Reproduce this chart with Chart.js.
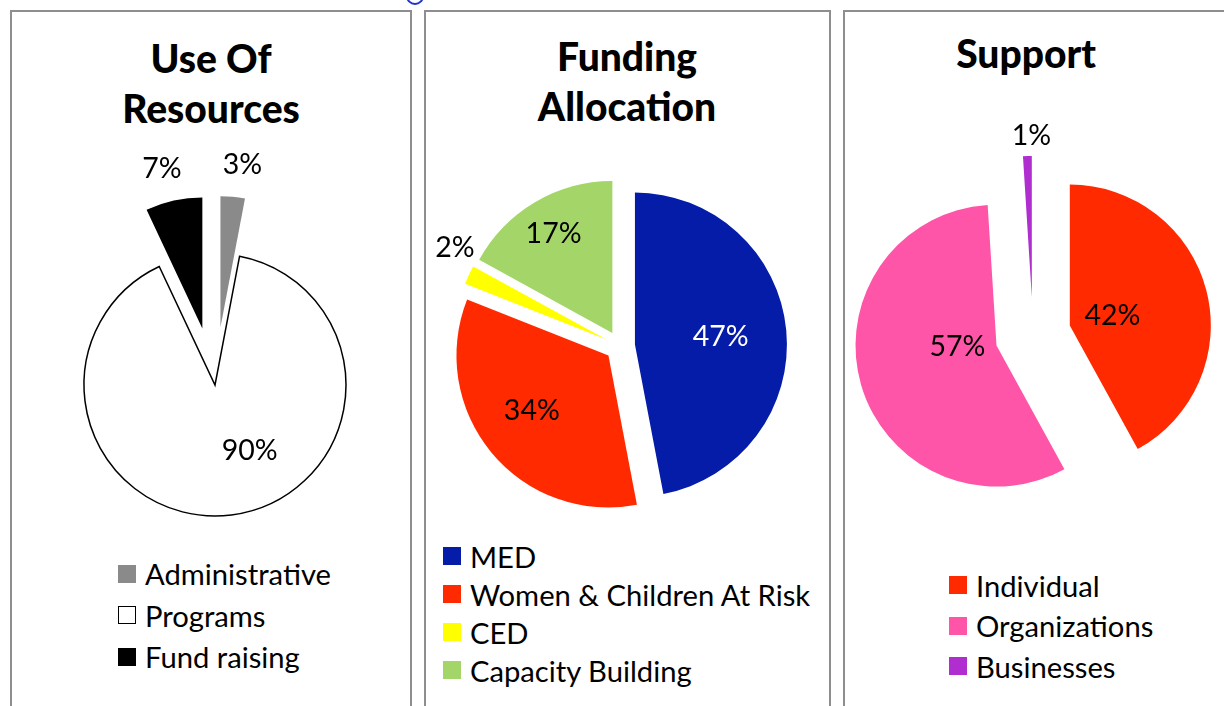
<!DOCTYPE html>
<html>
<head>
<meta charset="utf-8">
<script src="https://cdn.jsdelivr.net/npm/chart.js@4.4.1/dist/chart.umd.min.js"></script>
<style>
html,body{margin:0;padding:0;background:#fff;width:1224px;height:706px;overflow:hidden;font-family:Lato,"Open Sans",sans-serif;}
.panel{position:absolute;top:10px;height:720px;border:2px solid #8e8e8e;box-sizing:border-box;background:#fff;}
.title{position:absolute;font-weight:900;font-size:39px;line-height:50px;text-align:center;color:#000;white-space:nowrap;transform:translateX(-50%);}
canvas{position:absolute;left:0;top:0;}
.legend{position:absolute;font-size:29.2px;color:#000;}
.legend .row{display:flex;align-items:center;white-space:nowrap;}
.legend .box{width:18px;height:18px;box-sizing:border-box;margin-right:9px;flex:none;}
.ring{position:absolute;left:406px;top:-13px;width:18px;height:18px;border:2px solid #2036c8;border-radius:50%;box-sizing:border-box;}
</style>
</head>
<body>
<div class="panel" style="left:10px;width:402px;"></div>
<div class="panel" style="left:424px;width:407px;"></div>
<div class="panel" style="left:843px;width:420px;"></div>
<div class="ring"></div>

<div class="title" style="left:211px;top:33px;">Use Of<br>Resources</div>
<div class="title" style="left:627px;top:31px;">Funding<br>Allocation</div>
<div class="title" style="left:1026px;top:28px;">Support</div>

<div id="leg1" class="legend" style="left:118px;top:553px;"></div>
<div id="leg2" class="legend" style="left:443px;top:537px;"></div>
<div id="leg3" class="legend" style="left:949px;top:565px;"></div>

<canvas id="c1" width="1224" height="706"></canvas>
<canvas id="c2" width="1224" height="706"></canvas>
<canvas id="c3" width="1224" height="706"></canvas>

<script>
// ---- Data ----
const useLabels = ['Administrative', 'Programs', 'Fund raising'];
const useValues = [3, 90, 7];
const useColors = ['#8a8a8a', '#ffffff', '#000000'];

const fundLabels = ['MED', 'Women & Children At Risk', 'CED', 'Capacity Building'];
const fundValues = [47, 34, 2, 17];
const fundColors = ['#041ca8', '#ff2a00', '#ffff00', '#a3d568'];

const supportLabels = ['Individual', 'Organizations', 'Businesses'];
const supportValues = [42, 57, 1];
const supportColors = ['#ff2a00', '#ff55a8', '#b02ecf'];

// ---- Plugin: exploded slices + percentage labels ----
const explodePlugin = {
  id: 'explode',
  beforeDatasetsDraw(chart, args, opts) {
    const meta = chart.getDatasetMeta(0);
    meta.data.forEach((arc, i) => {
      if (arc._exploded) return;
      const orig = arc.draw;
      arc.draw = function (ctx, area) {
        const d = (opts.amount || [])[i] || 0;
        const mid = (this.startAngle + this.endAngle) / 2;
        ctx.save();
        ctx.translate(Math.cos(mid) * d, Math.sin(mid) * d);
        orig.call(this, ctx, area);
        ctx.restore();
      };
      arc._exploded = true;
    });
  },
  afterDatasetsDraw(chart, args, opts) {
    const meta = chart.getDatasetMeta(0);
    const values = chart.data.datasets[0].data;
    const ctx = chart.ctx;
    ctx.save();
    ctx.font = opts.font;
    ctx.textAlign = 'center';
    ctx.textBaseline = 'middle';
    meta.data.forEach((arc, i) => {
      const p = arc.getProps(['x', 'y', 'startAngle', 'endAngle', 'outerRadius'], true);
      const d = (opts.amount || [])[i] || 0;
      const mid = (p.startAngle + p.endAngle) / 2;
      const a = mid + ((opts.labelAngle || [])[i] || 0) * Math.PI / 180;
      const rr = p.outerRadius * opts.labelRadius[i];
      const x = p.x + Math.cos(mid) * d + Math.cos(a) * rr;
      const y = p.y + Math.sin(mid) * d + Math.sin(a) * rr;
      ctx.fillStyle = (opts.labelColor || [])[i] || '#000';
      ctx.fillText(values[i] + '%', x, y);
    });
    ctx.restore();
  }
};

function makePie(canvasId, labels, values, colors, cfg) {
  const canvas = document.getElementById(canvasId);
  const W = canvas.width, H = canvas.height;
  const bwMax = Math.max(...cfg.borderWidth);
  const side = 2 * cfg.radius + bwMax;
  const left = cfg.cx - side / 2, top = cfg.cy - side / 2;
  return new Chart(canvas, {
    type: 'pie',
    data: {
      labels: labels,
      datasets: [{
        data: values,
        backgroundColor: colors,
        borderColor: '#000000',
        borderWidth: cfg.borderWidth,
        borderJoinStyle: 'miter',
        hoverOffset: 0
      }]
    },
    options: {
      responsive: false,
      animation: false,
      events: [],
      devicePixelRatio: 1,
      layout: { padding: { left: left, top: top, right: W - left - side, bottom: H - top - side } },
      plugins: {
        legend: { display: false },
        tooltip: { enabled: false },
        explode: {
          amount: cfg.explode,
          labelRadius: cfg.labelRadius,
          labelAngle: cfg.labelAngle,
          labelColor: cfg.labelColor,
          font: '28.5px Lato'
        }
      }
    },
    plugins: [explodePlugin]
  });
}

function makeLegend(id, labels, colors, rowH, outline) {
  const el = document.getElementById(id);
  labels.forEach((lab, i) => {
    const row = document.createElement('div');
    row.className = 'row';
    row.style.height = rowH + 'px';
    const box = document.createElement('span');
    box.className = 'box';
    box.style.background = colors[i];
    if (outline[i]) box.style.border = '1.5px solid #000';
    const t = document.createElement('span');
    t.textContent = lab;
    row.appendChild(box);
    row.appendChild(t);
    el.appendChild(row);
  });
}

makePie('c1', useLabels, useValues, useColors, {
  cx: 215, cy: 385, radius: 131,
  explode: [58, 0, 58],
  borderWidth: [0, 1.5, 0],
  labelRadius: [1.25, 0.57, 1.255],
  labelAngle: [2.3, -20.4, -1.6],
  labelColor: ['#000', '#000', '#000']
});
makePie('c2', fundLabels, fundValues, fundColors, {
  cx: 620, cy: 346, radius: 152,
  explode: [15, 15, 15, 15],
  borderWidth: [0, 0, 0, 0],
  labelRadius: [0.566, 0.62, 1.165, 0.76],
  labelAngle: [0, 4, 6, 0],
  labelColor: ['#ffffff', '#000', '#000', '#000']
});
makePie('c3', supportLabels, supportValues, supportColors, {
  cx: 1033, cy: 335, radius: 141,
  explode: [38, 38, 38],
  borderWidth: [0, 0, 0],
  labelRadius: [0.31, 0.277, 1.14],
  labelAngle: [2, 14, 1.7],
  labelColor: ['#000', '#000', '#000']
});

makeLegend('leg1', useLabels, useColors, 41.5, [false, true, false]);
makeLegend('leg2', fundLabels, fundColors, 38, [false, false, false, false]);
makeLegend('leg3', supportLabels, supportColors, 40.5, [false, false, false]);
</script>
</body>
</html>
